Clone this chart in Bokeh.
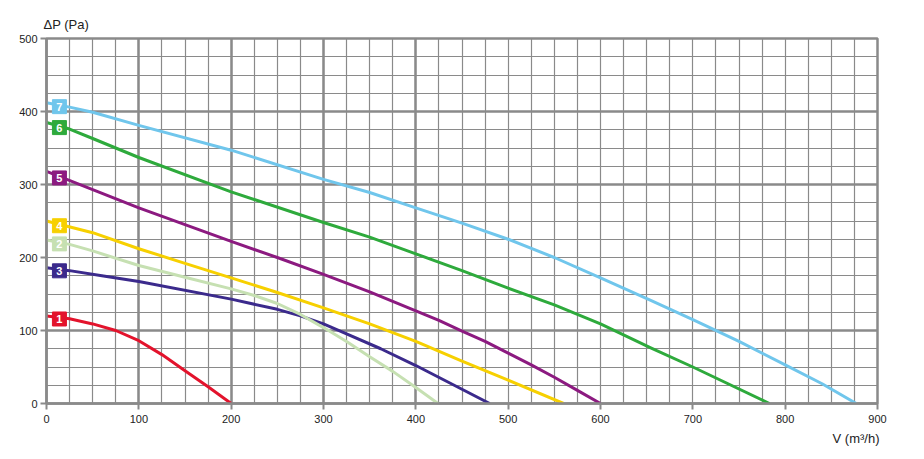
from bokeh.plotting import figure
from bokeh.models import Range1d, FixedTicker, Grid, Title, ColumnDataSource
from bokeh.core.properties import value
from bokeh.embed import file_html
from bokeh.resources import INLINE
import numpy as np

# ---- data ----
curve_names = ["1", "3", "2", "4", "5", "6", "7"]
curve_colors = ["#e3132c", "#3b2a8c", "#c6e0b2", "#f7d000", "#8c1a80", "#2eaa3c", "#70c6ec"]

v1 = [0, 25, 50, 75, 100, 125, 150, 175, 200]
p1 = [120, 116, 109, 100, 86, 67, 45, 23, 0]

v3 = [0, 25, 60, 100, 200, 250, 275, 300, 320, 362, 400, 440, 480]
p3 = [186, 182, 175, 167, 143, 129, 120, 109, 98, 75, 52, 26, 0]

v2 = [0, 25, 50, 100, 150, 200, 225, 250, 275, 300, 325, 350, 375, 400, 424]
p2 = [224, 218, 209, 189, 173, 157, 148, 137, 122, 104, 85, 64, 44, 22, 0]

v4 = [0, 50, 100, 150, 200, 250, 300, 350, 400, 450, 500, 560]
p4 = [250, 234, 212, 192, 172, 152, 131, 109, 85, 58, 32, 0]

v5 = [0, 50, 100, 150, 200, 250, 300, 350, 400, 425, 450, 475, 500, 525, 550, 575, 600]
p5 = [318, 293, 268, 245, 222, 200, 177, 153, 127, 114, 99, 85, 69, 53, 36, 18, 0]

v6 = [0, 25, 50, 100, 200, 300, 350, 400, 450, 500, 550, 600, 655, 700, 783]
p6 = [385, 376, 363, 337, 290, 248, 228, 205, 182, 158, 135, 109, 76, 50, 0]

v7 = [0, 25, 50, 100, 200, 300, 350, 400, 450, 500, 550, 600, 655, 700, 750, 800, 840, 877]
p7 = [412, 406, 399, 381, 347, 307, 289, 268, 247, 225, 200, 172, 141, 115, 85, 53, 27, 0]

series_v = [v1, v3, v2, v4, v5, v6, v7]
series_p = [p1, p3, p2, p4, p5, p6, p7]

x_ticks = [0, 100, 200, 300, 400, 500, 600, 700, 800, 900]
y_ticks = [0, 100, 200, 300, 400, 500]
x_minor = list(range(0, 901, 25))
y_minor = list(range(0, 501, 25))
x_bold = [100, 200, 300, 400]
y_bold = [100, 300, 400]

GRID = "#8a8a8a"
FONT = "Liberation Sans Narrow, Liberation Sans, sans-serif"

p = figure(width=908, height=448, output_backend="svg", toolbar_location=None,
           x_range=Range1d(0, 900), y_range=Range1d(0, 500),
           min_border_left=46, min_border_right=31, min_border_top=38, min_border_bottom=43)
p.background_fill_color = "white"
p.border_fill_color = "white"
p.outline_line_color = GRID
p.outline_line_width = 2.5

p.xgrid.visible = False
p.ygrid.visible = False

for dim, ticks, w in [(0, x_minor, 1.2), (1, y_minor, 1.2), (0, x_bold, 2.5), (1, y_bold, 2.5)]:
    g = Grid(dimension=dim, ticker=FixedTicker(ticks=ticks))
    g.grid_line_color = GRID
    g.grid_line_width = w
    p.add_layout(g)

for ax, ticks in [(p.xaxis[0], x_ticks), (p.yaxis[0], y_ticks)]:
    ax.ticker = FixedTicker(ticks=ticks)
    ax.axis_line_color = GRID
    ax.axis_line_width = 2.5
    ax.major_tick_line_color = GRID
    ax.major_tick_line_width = 2
    ax.major_tick_out = 6
    ax.major_tick_in = 0
    ax.minor_tick_line_color = None
    ax.major_label_text_font = FONT
    ax.major_label_text_font_size = "11px"
    ax.major_label_text_color = "#222222"
p.xaxis.major_label_standoff = 5
p.yaxis.major_label_standoff = 3

for name, col, vs, ps in zip(curve_names, curve_colors, series_v, series_p):
    p.line(vs, ps, line_color=col, line_width=3, line_join="round")

# labels on curves
label_x = 14
lab_x = [label_x] * len(curve_names)
lab_y = [float(np.interp(label_x, vs, ps)) - 2 for vs, ps in zip(series_v, series_p)]
src = ColumnDataSource(dict(x=lab_x, y=lab_y, t=curve_names, c=curve_colors))
p.scatter("x", "y", source=src, marker="square", size=14, fill_color="c", line_color="c")
p.text("x", "y", text="t", source=src, text_color="white", text_font=value(FONT),
       text_font_style="bold", text_font_size="11px", text_align="center", text_baseline="middle")

t_top = Title(text="ΔP (Pa)", align="left", offset=-3, text_font=FONT, text_font_size="13px",
              text_font_style="normal", text_color="#222222", standoff=13)
p.add_layout(t_top, "above")
t_bot = Title(text="V (m³/h)", align="right", offset=-2, text_font=FONT, text_font_size="13px",
              text_font_style="normal", text_color="#222222", standoff=6)
p.add_layout(t_bot, "below")

open("out.html", "w").write(file_html(p, INLINE))
